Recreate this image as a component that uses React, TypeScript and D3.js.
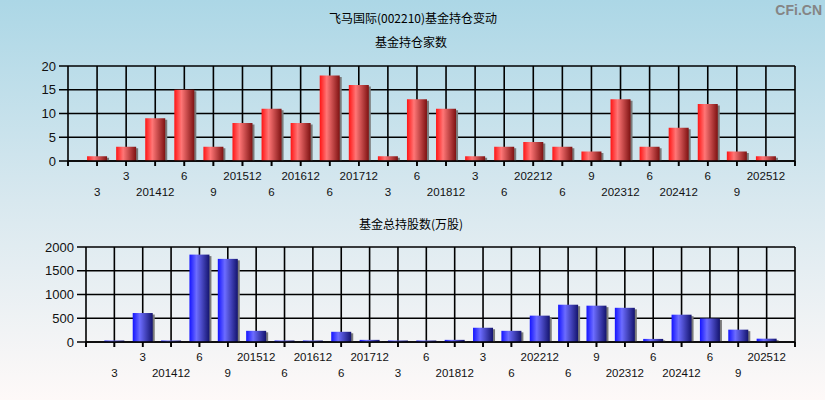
import React, { useEffect } from "react";
import * as d3 from "d3";

const dates = ["3","3","201412","6","9","201512","6","201612","6","201712","3","6","201812","3","6","202212","6","9","202312","6","202412","6","9","202512"];
const fundCounts = [1,3,9,15,3,8,11,8,18,16,1,13,11,1,3,4,3,2,13,3,7,12,2,1];
const fundShares = [15,610,15,1840,1750,235,10,10,215,45,15,20,45,300,235,555,785,765,720,65,575,495,260,70];
const countTicks = [0,5,10,15,20];
const shareTicks = [0,500,1000,1500,2000];

const W = 825, H = 400;
const FONT = "'Liberation Sans', Arial, sans-serif";
const CJK = "'Noto Sans CJK SC', 'Liberation Sans', sans-serif";

type PanelProps = {
  values: number[];
  ticks: number[];
  left: number; right: number; top: number; bottom: number;
  grad: string;
  labelGap: number;
};

function Panel({ values, ticks, left, right, top, bottom, grad, labelGap }: PanelProps) {
  const n = values.length;
  const x = d3.scaleLinear().domain([0, n + 1]).range([left, right]);
  const y = d3.scaleLinear().domain([ticks[0], ticks[ticks.length - 1]]).range([bottom, top]);
  const idx = d3.range(n + 2);
  const bw = 20;
  return (
    <g>
      {/* vertical grid */}
      {idx.map((i) => (
        <line key={"v" + i} x1={x(i)} x2={x(i)} y1={top} y2={bottom + 5} stroke="#000" strokeWidth={1.6} />
      ))}
      {/* horizontal grid */}
      {ticks.map((t) => (
        <line key={"h" + t} x1={left - 9} x2={right} y1={y(t)} y2={y(t)} stroke="#000" strokeWidth={1.6} />
      ))}
      {/* bars */}
      {values.map((v, i) => {
        const cx = x(i + 1);
        const yt = y(v);
        const h = Math.max(y(0) - yt, 1.5);
        return (
          <g key={"b" + i}>
            <rect x={cx - bw / 2 + 2} y={y(0) - h + 1.5} width={bw} height={h - 1.5} fill="#7a7a7a" />
            <rect x={cx - bw / 2} y={y(0) - h} width={bw} height={h} fill={`url(#${grad})`} />
          </g>
        );
      })}
      <line x1={left} x2={right} y1={y(0)} y2={y(0)} stroke="#000" strokeWidth={1.6} />
      {idx.map((i) => (
        <line key={"t" + i} x1={x(i)} x2={x(i)} y1={bottom} y2={bottom + 5} stroke="#000" strokeWidth={1.6} />
      ))}
      {ticks.map((t) => (
        <text key={"yl" + t} x={left - labelGap} y={y(t) + 4.5} textAnchor="end" fontFamily={FONT} fontSize={13} fill="#111">{t}</text>
      ))}
      {dates.map((d, i) => {
        const k = i + 1;
        const row2 = k % 2 === 1;
        return (
          <text key={"xl" + i} x={x(k)} y={bottom + (row2 ? 35 : 19)} textAnchor="middle" fontFamily={FONT} fontSize={11.5} fill="#111">{d}</text>
        );
      })}
    </g>
  );
}

export default function App() {
  useEffect(() => {
    document.body.style.margin = "0";
  }, []);
  return (
    <svg width={W} height={H} style={{ display: "block" }}>
      <defs>
        <linearGradient id="bg" x1="0" y1="0" x2="0" y2="1">
          <stop offset="0%" stopColor="#acd7e6" />
          <stop offset="50%" stopColor="#d8e8ef" />
          <stop offset="100%" stopColor="#fef9f8" />
        </linearGradient>
        <linearGradient id="redg" x1="0" y1="0" x2="1" y2="0">
          <stop offset="0%" stopColor="#ff1414" />
          <stop offset="35%" stopColor="#ff7676" />
          <stop offset="100%" stopColor="#7e1212" />
        </linearGradient>
        <linearGradient id="blueg" x1="0" y1="0" x2="1" y2="0">
          <stop offset="0%" stopColor="#1414ff" />
          <stop offset="35%" stopColor="#6c6cff" />
          <stop offset="100%" stopColor="#14146e" />
        </linearGradient>
      </defs>
      <rect x={0} y={0} width={W} height={H} fill="url(#bg)" />
      <text x={822} y={15} textAnchor="end" fontFamily={FONT} fontWeight="bold" fontSize={14} fill="#858585">CFi.CN</text>
      <text x={413} y={23} textAnchor="middle" fontFamily={CJK} fontSize={12} fill="#000">飞马国际(002210)基金持仓变动</text>
      <text x={411} y={47} textAnchor="middle" fontFamily={CJK} fontSize={12} fill="#000">基金持仓家数</text>
      <text x={411} y={229} textAnchor="middle" fontFamily={CJK} fontSize={12} fill="#000">基金总持股数(万股)</text>
      <Panel values={fundCounts} ticks={countTicks} left={68} right={795} top={66} bottom={161} grad="redg" labelGap={12} />
      <Panel values={fundShares} ticks={shareTicks} left={86} right={795} top={247} bottom={342} grad="blueg" labelGap={12} />
    </svg>
  );
}
